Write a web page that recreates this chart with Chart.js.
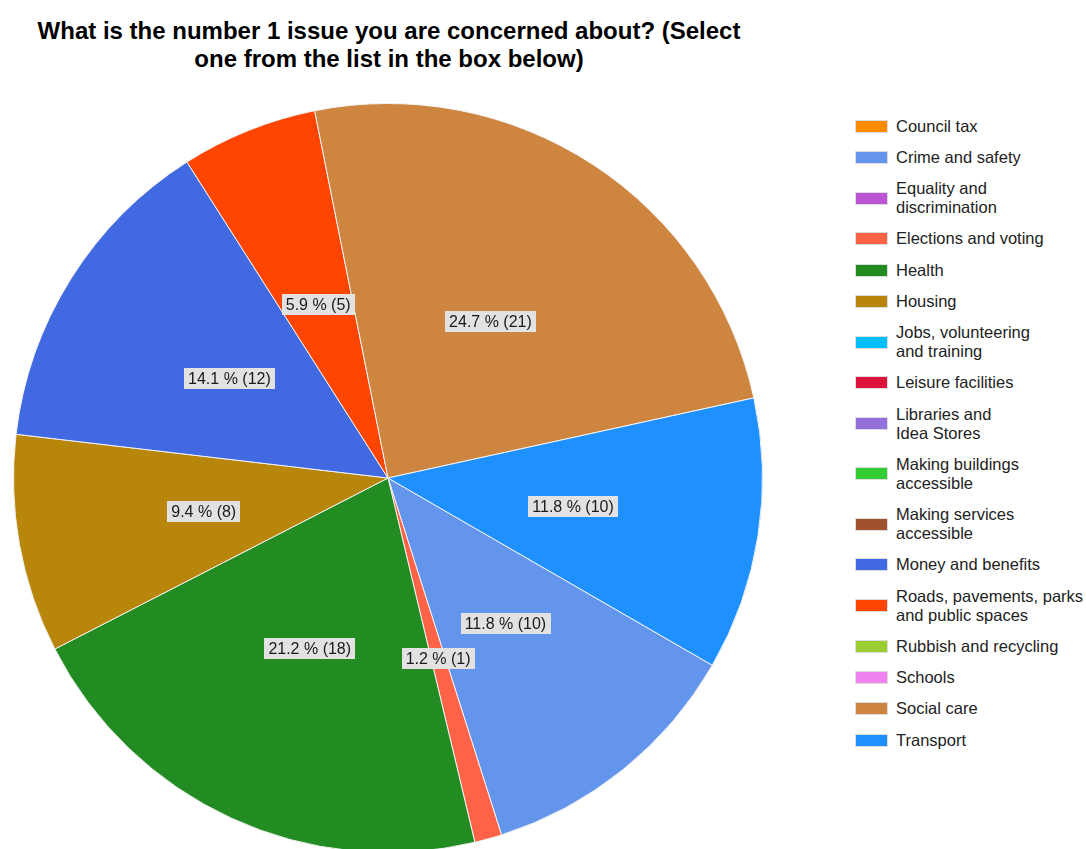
<!DOCTYPE html>
<html>
<head>
<meta charset="utf-8">
<script src="https://cdn.jsdelivr.net/npm/chart.js@4.4.1/dist/chart.umd.min.js"></script>
<style>
  html, body { margin: 0; padding: 0; background: #fff; overflow: hidden; }
  body { width: 1086px; height: 849px; position: relative; font-family: Arial, "Liberation Sans", sans-serif; }
  #titulo {
    position: absolute; left: 0; top: 17px; width: 778px;
    text-align: center; font-weight: bold; font-size: 24px; line-height: 28px; color: #000;
  }
  #caixa { position: absolute; left: 13px; top: 103px; width: 750px; height: 750px; }
  #legenda { position: absolute; left: 855px; top: 116.5px; }
  .item { display: flex; align-items: center; margin-bottom: 12.25px; }
  .cor { width: 31px; height: 11px; border: 1px solid #ddd; flex: none; }
  .txt { margin-left: 8px; font-size: 16.5px; line-height: 19px; color: #222; white-space: nowrap; }
</style>
</head>
<body>
<div id="titulo">What is the number 1 issue you are concerned about? (Select<br>one from the list in the box below)</div>
<div id="caixa"><canvas id="graficoPizza"></canvas></div>
<div id="legenda"></div>
<script>
const categorias = [
  'Council tax', 'Crime and safety', 'Equality and\ndiscrimination', 'Elections and voting',
  'Health', 'Housing', 'Jobs, volunteering\nand training', 'Leisure facilities',
  'Libraries and\nIdea Stores', 'Making buildings\naccessible', 'Making services\naccessible',
  'Money and benefits', 'Roads, pavements, parks\nand public spaces', 'Rubbish and recycling',
  'Schools', 'Social care', 'Transport'
];
const respostas = [0, 10, 0, 1, 18, 8, 0, 0, 0, 0, 0, 12, 5, 0, 0, 21, 10];
const cores = [
  '#FF8C00', '#6495ED', '#BA55D3', '#FF6347', '#228B22', '#B8860B', '#00BFFF', '#DC143C',
  '#9370DB', '#32CD32', '#A0522D', '#4169E1', '#FF4500', '#9ACD32', '#EE82EE', '#CD853F', '#1E90FF'
];

const total = respostas.reduce((a, b) => a + b, 0);

// rotulos "24.7 % (21)" no meio de cada fatia
const rotulos = {
  id: 'rotulos',
  afterDatasetsDraw(chart) {
    const ctx = chart.ctx;
    const meta = chart.getDatasetMeta(0);
    ctx.save();
    ctx.font = '16px Arial, "Liberation Sans", sans-serif';
    ctx.textAlign = 'center';
    ctx.textBaseline = 'middle';
    meta.data.forEach((arco, i) => {
      const v = respostas[i];
      if (!v) return;
      const p = arco.getProps(['startAngle', 'endAngle', 'x', 'y', 'outerRadius'], true);
      const meio = (p.startAngle + p.endAngle) / 2;
      const x = p.x + Math.cos(meio) * p.outerRadius / 2;
      const y = p.y + Math.sin(meio) * p.outerRadius / 2;
      const texto = `${(v / total * 100).toFixed(1)} % (${v})`;
      const w = ctx.measureText(texto).width + 8;
      const h = 21;
      ctx.fillStyle = '#e2e2e2';
      ctx.fillRect(Math.round(x - w / 2), Math.round(y - h / 2), Math.round(w), h);
      ctx.fillStyle = '#1a1a1a';
      ctx.fillText(texto, x, y + 1);
    });
    ctx.restore();
  }
};

new Chart(document.getElementById('graficoPizza').getContext('2d'), {
  type: 'pie',
  data: {
    labels: categorias,
    datasets: [{
      data: respostas,
      backgroundColor: cores,
      borderColor: '#f2f2f2',
      borderWidth: 1
    }]
  },
  options: {
    responsive: true,
    maintainAspectRatio: false,
    animation: false,
    rotation: 120,
    layout: { padding: 0 },
    plugins: { legend: { display: false }, tooltip: { enabled: false }, title: { display: false } }
  },
  plugins: [rotulos]
});

document.getElementById('legenda').innerHTML = categorias.map((c, i) => `
  <div class="item"><span class="cor" style="background:${cores[i]}"></span><span class="txt">${c.replace('\n', '<br>')}</span></div>
`).join('');
</script>
</body>
</html>
